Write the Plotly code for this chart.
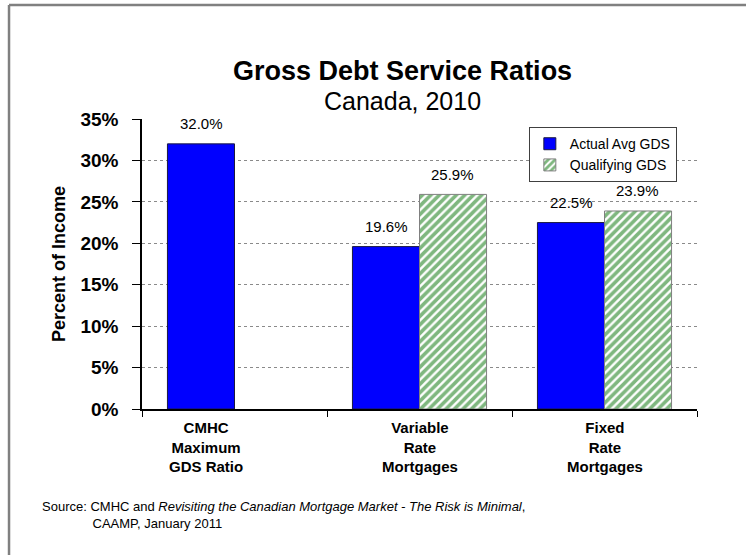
import plotly.graph_objects as go

# Gross Debt Service ratios, Canada 2010 (percent of income)
categories = ["CMHC Maximum GDS Ratio", "Variable Rate Mortgages", "Fixed Rate Mortgages"]
category_labels = ["CMHC<br>Maximum<br>GDS Ratio", "Variable<br>Rate<br>Mortgages", "Fixed<br>Rate<br>Mortgages"]
actual_avg_gds = [32.0, 19.6, 22.5]
qualifying_gds = [None, 25.9, 23.9]
y_ticks = [0, 5, 10, 15, 20, 25, 30, 35]
y_tick_labels = [f"{t}%" for t in y_ticks]

FONT = "Arial, Liberation Sans, sans-serif"
BLUE = "#0000FF"
GREEN = "#007000"

fig = go.Figure()

fig.add_trace(go.Bar(
    name="Actual Avg GDS",
    x=categories,
    y=actual_avg_gds,
    legendgroup="actual",
    marker=dict(color=BLUE, line=dict(color="#1a1a40", width=1)),
))
fig.add_trace(go.Bar(
    name="Qualifying GDS",
    x=categories,
    y=qualifying_gds,
    legendgroup="qualifying",
    marker=dict(
        color="white",
        line=dict(color="#808080", width=1),
        pattern=dict(shape="/", fgcolor=GREEN, bgcolor="white", size=6, solidity=0.6),
    ),
))

annotations = []

# value labels above each bar
for series_idx, series in enumerate([actual_avg_gds, qualifying_gds]):
    for i, v in enumerate(series):
        if v is None:
            continue
        annotations.append(dict(
            x=i + (-0.18 if series_idx == 0 else 0.18),
            y=v, xref="x", yref="y",
            text=f"{v:.1f}%", showarrow=False,
            yshift=20, font=dict(family=FONT, size=15, color="black"),
        ))

# category labels under the axis
label_shift = [-29, 0, 0]
for i, lab in enumerate(category_labels):
    annotations.append(dict(
        x=i, y=0, xref="x", yref="paper", xanchor="center", yanchor="top",
        yshift=-8, xshift=label_shift[i], showarrow=False, align="center",
        text=f"<b>{lab}</b>",
        font=dict(family=FONT, size=15, color="black"),
    ))

# source note
annotations.append(dict(
    x=-0.183, y=-0.305, xref="paper", yref="paper", xanchor="left", yanchor="top",
    align="left", showarrow=False,
    text="Source: CMHC and <i>Revisiting the Canadian Mortgage Market - The Risk is Minimal</i>,"
         "<br>              CAAMP, January 2011",
    font=dict(family=FONT, size=13, color="black"),
))

# title and subtitle
annotations.append(dict(
    x=0.469, y=1.166, xref="paper", yref="paper", xanchor="center", yanchor="middle",
    showarrow=False, text="<b>Gross Debt Service Ratios</b>",
    font=dict(family=FONT, size=27, color="black"),
))
annotations.append(dict(
    x=0.469, y=1.062, xref="paper", yref="paper", xanchor="center", yanchor="middle",
    showarrow=False, text="Canada, 2010",
    font=dict(family=FONT, size=25, color="black"),
))

# outer frame (top and left edges)
shapes = [
    dict(type="line", xref="paper", yref="paper", x0=-0.2396, x1=1.2, y0=1.393, y1=1.393,
         line=dict(color="#808080", width=2.5)),
    dict(type="line", xref="paper", yref="paper", x0=-0.2396, x1=-0.2396, y0=1.393, y1=-0.7,
         line=dict(color="#808080", width=2.5)),
]

fig.update_layout(
    width=746, height=555,
    margin=dict(l=142, r=49, t=119, b=146),
    paper_bgcolor="white", plot_bgcolor="white",
    barmode="group", bargap=0.275, bargroupgap=0,
    font=dict(family=FONT, color="black"),
    showlegend=True,
    legend=dict(
        x=0.697, y=0.972, xanchor="left", yanchor="top",
        bgcolor="white", bordercolor="#404040", borderwidth=1,
        font=dict(family=FONT, size=14, color="black"),
        itemwidth=30, tracegroupgap=0,
    ),
    annotations=annotations,
    shapes=shapes,
)

fig.update_xaxes(
    showline=True, linecolor="black", linewidth=1.5,
    ticks="outside", tickson="boundaries", ticklen=6, tickcolor="black",
    showticklabels=False,
    showgrid=False,
)
fig.update_yaxes(
    range=[0, 35], tickvals=y_ticks, ticktext=y_tick_labels,
    showline=True, linecolor="black", linewidth=1.5,
    ticks="outside", ticklen=8, tickcolor="black",
    tickfont=dict(family=FONT, size=19, color="black", weight="bold"),
    ticklabelstandoff=10,
    showgrid=True, gridcolor="#8a8a8a", gridwidth=1, griddash="dot",
    zeroline=False,
    title=dict(text="<b>Percent of Income</b>", font=dict(family=FONT, size=18, color="black"), standoff=10),
)

fig.write_html("out.html")
